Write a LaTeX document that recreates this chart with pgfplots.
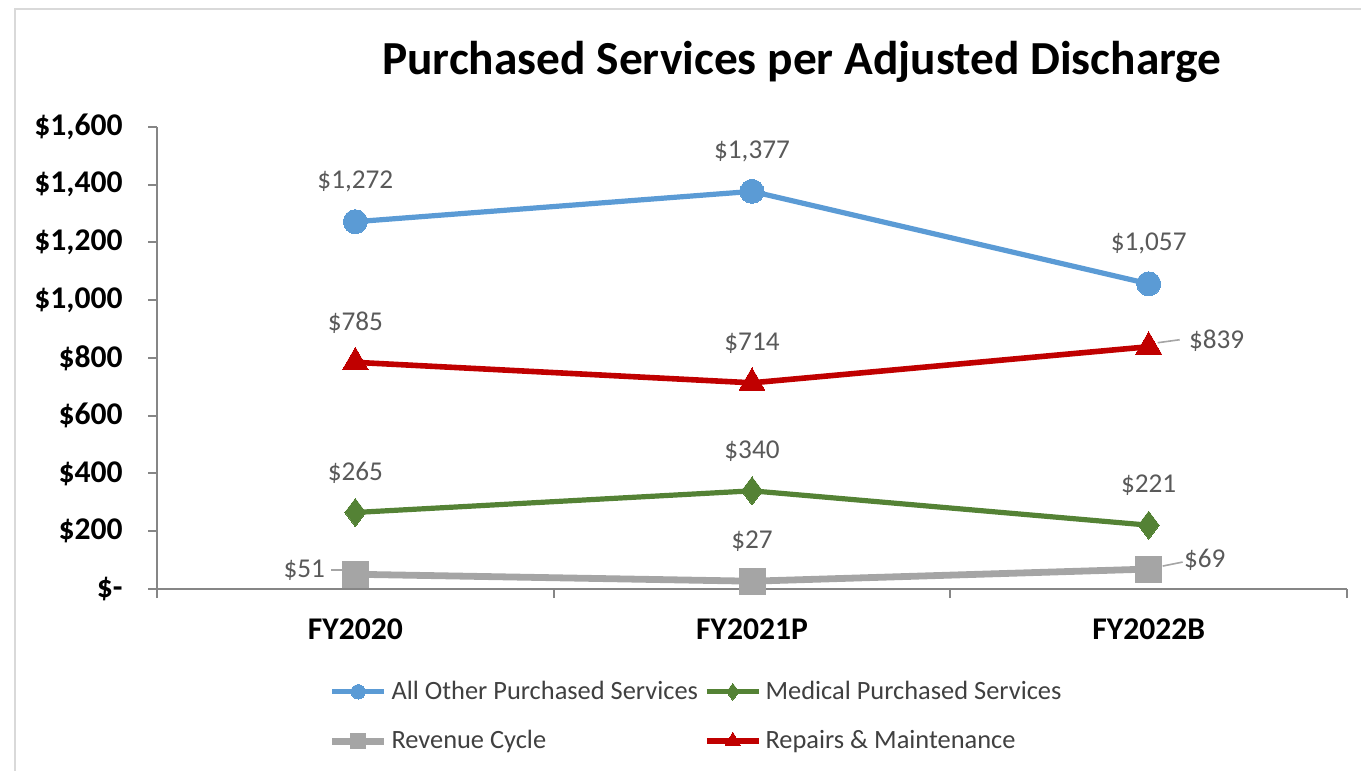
\documentclass[border=0pt]{standalone}
\usepackage{fontspec}
\setmainfont{Carlito}
\usepackage{pgfplots}
\pgfplotsset{compat=1.18}

\definecolor{cblue}{HTML}{5B9BD5}
\definecolor{cgreen}{HTML}{548235}
\definecolor{cgray}{HTML}{A5A5A5}
\definecolor{cred}{HTML}{C00000}
\definecolor{axisgray}{HTML}{868686}
\definecolor{labelgray}{HTML}{595959}
\definecolor{framegray}{HTML}{D9D9D9}

\tikzset{
  dlabel/.style={font=\fontsize{13.6bp}{16bp}\selectfont, text=labelgray, inner sep=0pt},
  leader/.style={draw=cgray, line width=0.8bp},
}

\begin{document}
\begin{tikzpicture}
\useasboundingbox (0,0) rectangle (680.5bp,385.5bp);
\draw[framegray, line width=1.2bp] (7.5bp,0) -- (7.5bp,381bp) -- (680.5bp,381bp);
\node[font=\bfseries\fontsize{23.7bp}{28bp}\selectfont] at (401bp,354.5bp) {Purchased Services per Adjusted Discharge};

\begin{axis}[
  at={(78.5bp,91bp)}, anchor=south west,
  scale only axis, width=595bp, height=231bp,
  xmin=-0.5, xmax=2.5, ymin=0, ymax=1600,
  axis x line*=bottom, axis y line*=left,
  axis line style={-, draw=axisgray, line width=1bp},
  tick style={draw=axisgray, line width=1bp},
  tick align=outside, major tick length=4.5bp,
  xtick={-0.5,0.5,1.5,2.5}, xticklabels={},
  extra x ticks={0,1,2},
  extra x tick labels={FY2020,FY2021P,FY2022B},
  extra x tick style={major tick length=0pt,
    xticklabel style={inner sep=0pt, yshift=-14.5bp}},
  ytick={0,200,...,1600},
  yticklabels={{\$-},{\$200},{\$400},{\$600},{\$800},{\$1,000},{\$1,200},{\$1,400},{\$1,600}},
  yticklabel style={inner sep=0pt, xshift=-12.5bp},
  ticklabel style={font=\bfseries\fontsize{15.8bp}{18bp}\selectfont, text=black},
  legend columns=2,
  legend cell align=left,
  legend style={at={(0.144,-0.19)}, anchor=north west, draw=none,
    font=\fontsize{13.2bp}{15bp}\selectfont, text=black!75,
    row sep=10bp, inner sep=0pt,
    /tikz/every even column/.append style={column sep=1bp}},
  legend image code/.code={
    \draw[mark repeat=2, mark phase=2, #1, /tikz/every mark/.append style={scale=0.6}] plot coordinates {(0bp,0bp) (13bp,0bp) (26bp,0bp)};},
  clip=false,
]
\addplot[cblue, line width=2.6bp, mark=*, mark size=6bp, mark options={solid, fill=cblue, draw=cblue, line width=0pt}]
  coordinates {(0,1272) (1,1377) (2,1057)};
\addlegendentry{All Other Purchased Services}
\addplot[cgreen, line width=2.6bp, mark=diamond*, mark size=7bp, mark options={solid, fill=cgreen, draw=cgreen, line width=0pt}]
  coordinates {(0,265) (1,340) (2,221)};
\addlegendentry{Medical Purchased Services}
\addplot[cgray, line width=3.4bp, mark=square*, mark size=6.5bp, mark options={solid, fill=cgray, draw=cgray, line width=0pt}]
  coordinates {(0,51) (1,27) (2,69)};
\addlegendentry{Revenue Cycle}
\addplot[cred, line width=2.8bp, mark=triangle*, mark size=7.5bp, mark options={solid, fill=cred, draw=cred, line width=0pt}]
  coordinates {(0,785) (1,714) (2,839)};
\addlegendentry{Repairs \& Maintenance}

% data labels
\node[dlabel] at ([yshift=20bp]axis cs:0,1272) {\$1,272};
\node[dlabel] at ([yshift=20bp]axis cs:1,1377) {\$1,377};
\node[dlabel] at ([yshift=20bp]axis cs:2,1057) {\$1,057};
\node[dlabel] at ([yshift=20bp]axis cs:0,785) {\$785};
\node[dlabel] at ([yshift=20bp]axis cs:1,714) {\$714};
\draw[leader] ([xshift=4.5bp,yshift=2bp]axis cs:2,839) -- ([xshift=15.5bp,yshift=3.5bp]axis cs:2,839);
\node[dlabel] at ([xshift=34bp,yshift=3bp]axis cs:2,839) {\$839};
\node[dlabel] at ([yshift=20bp]axis cs:0,265) {\$265};
\node[dlabel] at ([yshift=20bp]axis cs:1,340) {\$340};
\node[dlabel] at ([yshift=20bp]axis cs:2,221) {\$221};
\draw[leader] ([xshift=-12bp,yshift=2bp]axis cs:0,51) -- ([xshift=-5.5bp,yshift=2bp]axis cs:0,51);
\node[dlabel] at ([xshift=-25.5bp,yshift=2bp]axis cs:0,51) {\$51};
\node[dlabel] at ([yshift=20bp]axis cs:1,27) {\$27};
\draw[leader] ([xshift=7bp,yshift=1.5bp]axis cs:2,69) -- ([xshift=17bp,yshift=3.5bp]axis cs:2,69);
\node[dlabel] at ([xshift=28bp,yshift=4.5bp]axis cs:2,69) {\$69};
\end{axis}
\end{tikzpicture}
\end{document}
